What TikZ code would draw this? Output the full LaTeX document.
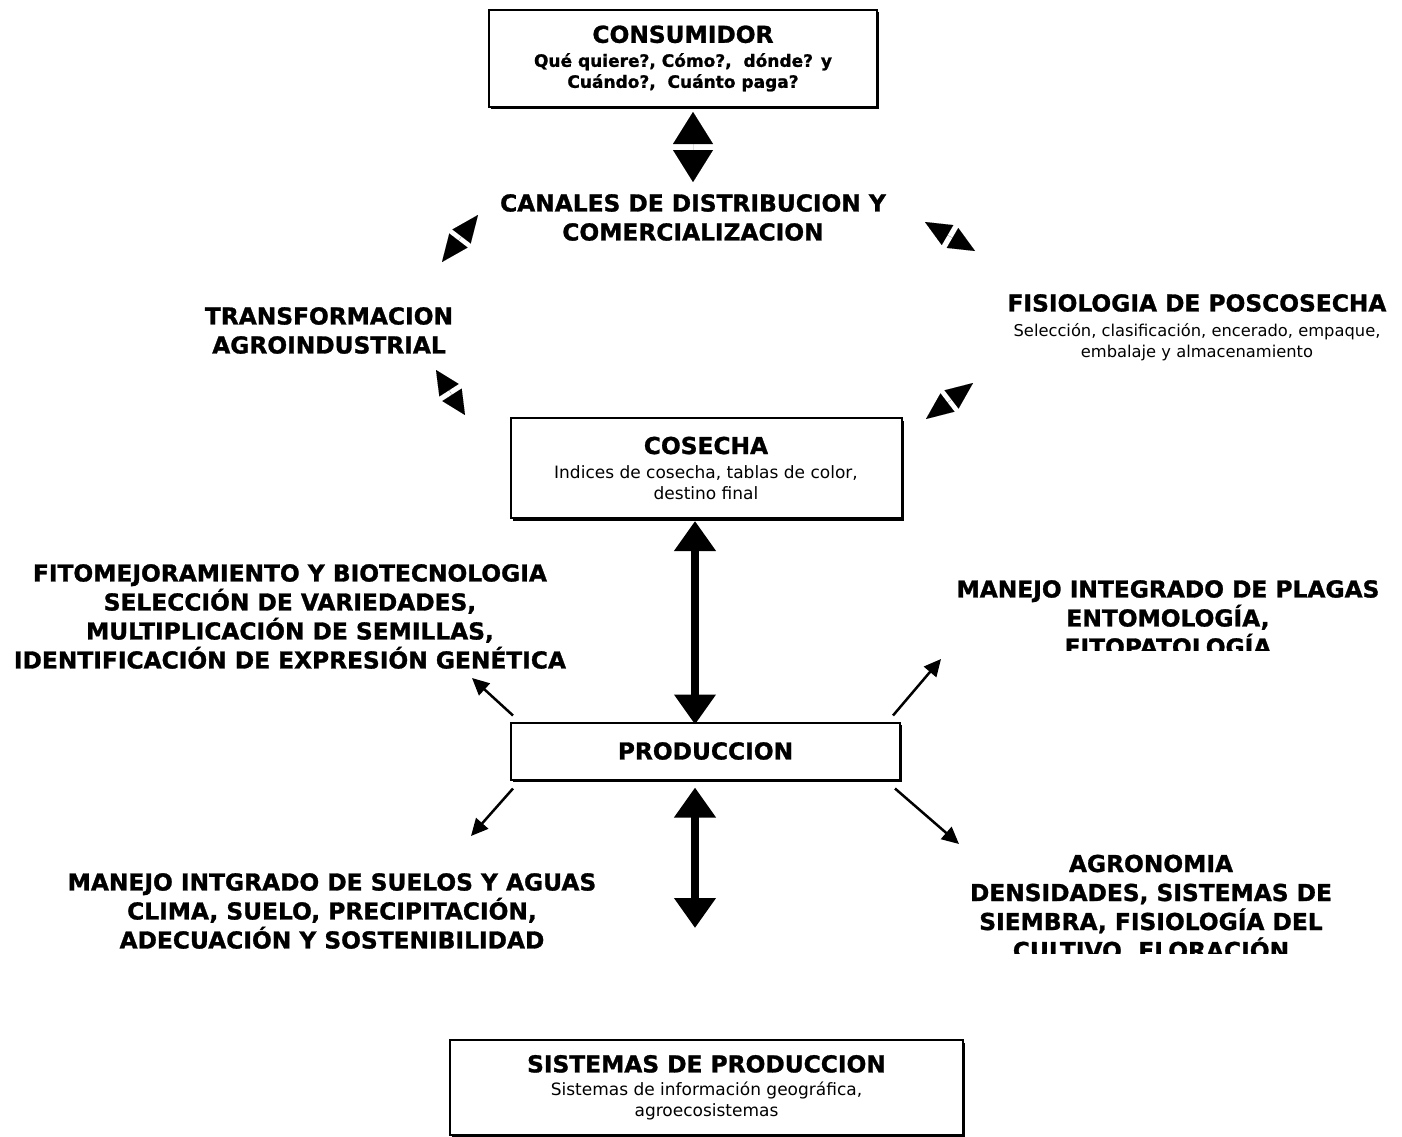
\documentclass[tikz,border=0pt]{standalone}
\usepackage{fontspec}
\setmainfont{DejaVu Sans}[BoldFeatures={FakeBold=1.2}]
\usetikzlibrary{arrows.meta,calc,shadows}
\begin{document}
\begin{tikzpicture}[x=1pt,y=-1pt,
  every node/.style={inner sep=0pt,outer sep=0pt},
  box/.style={draw,line width=2pt,fill=white,align=center,
    font=\fontsize{17}{21}\selectfont,
    drop shadow={shadow xshift=2pt,shadow yshift=-2.5pt,opacity=1,fill=black}},
  head/.style={align=center,font=\bfseries\fontsize{23.3}{29}\selectfont},
  subt/.style={align=center,font=\fontsize{16.3}{21}\selectfont},
  bigarrow/.style={line width=8pt,{Triangle[length=30pt,width=40pt]}-{Triangle[length=30pt,width=40pt]}},
  fatpair/.style={line width=0.01pt,{Triangle[length=#1,width=40pt]}-{Triangle[length=#1,width=40pt]}},
  smallpair/.style={line width=0.01pt,{Triangle[length=#1,width=23pt]}-{Triangle[length=#1,width=23pt]}},
  thinarrow/.style={line width=2.5pt,-{Triangle[length=17pt,width=16pt]}}
]
\useasboundingbox (0,0) rectangle (1402,1137);

% boxes
\node[box,minimum width=388pt,minimum height=97pt] (cons) at (683,58.5)
  {{\bfseries\fontsize{23.3}{28}\selectfont CONSUMIDOR}\\[3pt]
   \bfseries Qué quiere?, Cómo?,~ dónde? y\\\bfseries Cuándo?,~ Cuánto paga?};
\node[box,minimum width=391pt,minimum height=100pt] (cos) at (706,468)
  {{\bfseries\fontsize{23.3}{28}\selectfont COSECHA}\\[3pt]
   Indices de cosecha, tablas de color,\\destino final};
\node[box,minimum width=389pt,minimum height=57pt,font=\bfseries\fontsize{23.3}{28}\selectfont] (prod) at (705.5,751) {PRODUCCION};
\node[box,minimum width=513pt,minimum height=95pt] (sis) at (706.5,1087.5)
  {{\bfseries\fontsize{23.3}{28}\selectfont SISTEMAS DE PRODUCCION}\\[2pt]
   Sistemas de información geográfica,\\agroecosistemas};

% free texts
\node[head] (can) at (693,217.5) {CANALES DE DISTRIBUCION Y\\COMERCIALIZACION};
\node[head] (tra) at (329,330.5) {TRANSFORMACION\\AGROINDUSTRIAL};
\node[head] (fis) at (1197,303) {FISIOLOGIA DE POSCOSECHA};
\node[subt] (fiss) at (1197,342) {Selección, clasificación, encerado, empaque,\\embalaje y almacenamiento};
\node[head] (fit) at (290,616.5) {FITOMEJORAMIENTO Y BIOTECNOLOGIA\\SELECCIÓN DE VARIEDADES,\\MULTIPLICACIÓN DE SEMILLAS,\\IDENTIFICACIÓN DE EXPRESIÓN GENÉTICA};
\begin{scope}
  \clip (940,560) rectangle (1402,650);
  \node[head] (mip) at (1168,618) {MANEJO INTEGRADO DE PLAGAS\\ENTOMOLOGÍA,\\FITOPATOLOGÍA};
\end{scope}
\node[head] (sue) at (332,911) {MANEJO INTGRADO DE SUELOS Y AGUAS\\CLIMA, SUELO, PRECIPITACIÓN,\\ADECUACIÓN Y SOSTENIBILIDAD};
\begin{scope}
  \clip (940,840) rectangle (1402,953);
  \node[head] (agr) at (1151,908.5) {AGRONOMIA\\DENSIDADES, SISTEMAS DE\\SIEMBRA, FISIOLOGÍA DEL\\CULTIVO, FLORACIÓN};
\end{scope}

% free arrow ends
\coordinate (t1) at (693,112);
\coordinate (t2) at (693,182);
\coordinate (ula) at (442,262);
\coordinate (ulb) at (478,215);
\coordinate (ura) at (925,222);
\coordinate (urb) at (975,251);
\coordinate (lla) at (436,370);
\coordinate (llb) at (465,415);
\coordinate (lra) at (973,383);
\coordinate (lrb) at (926,419);
\coordinate (lowend) at (695,928);
\coordinate (e1) at (472,678);
\coordinate (e2) at (941,659);
\coordinate (e3) at (471,836);
\coordinate (e4) at (959,844);

% connectors
\draw[fatpair=32pt] (t1) -- (t2);
\draw[smallpair=27pt] (ula) -- (ulb);
\draw[smallpair=26pt] (ura) -- (urb);
\draw[smallpair=24pt] (lla) -- (llb);
\draw[smallpair=27pt] (lra) -- (lrb);
\draw[bigarrow] ($(cos.south)+(-11,3)$) -- ($(prod.north)+(-10.5,2)$);
\draw[bigarrow] ($(prod.south)+(-10.5,8)$) -- (lowend);
\draw[thinarrow] ($(prod.north west)+(2,-7)$) -- (e1);
\draw[thinarrow] ($(prod.north east)+(-7,-7)$) -- (e2);
\draw[thinarrow] ($(prod.south west)+(2,9)$) -- (e3);
\draw[thinarrow] ($(prod.south east)+(-5,9)$) -- (e4);
\end{tikzpicture}
\end{document}
